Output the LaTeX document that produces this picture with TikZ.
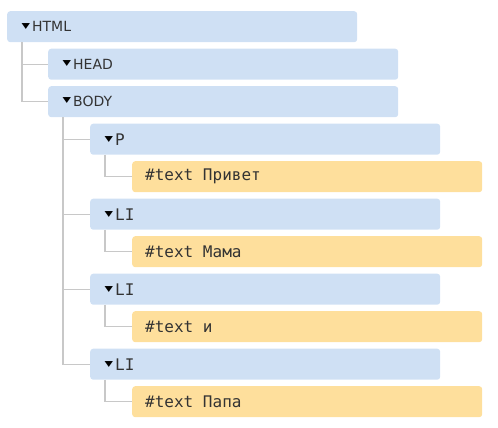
\documentclass[tikz,border=0pt]{standalone}
\usepackage{fontspec}
\setmainfont{DejaVu Sans}
\newfontfamily\tagmono[WordSpace={1,0,0}]{DejaVu Sans Mono}
\newcommand\tri{{\rmfamily\color{black}\fontsize{11}{11}\selectfont\raisebox{3.8pt}{\scalebox{1}[0.7]{▼}}}\hspace{2pt}}
\begin{document}
\begin{tikzpicture}[x=1pt, y=-1pt]

      \definecolor{tagBlue}{HTML}{CFE0F4}    % element nodes
      \definecolor{textGold}{HTML}{FEDF9C}   % text nodes
      \definecolor{inkGray}{HTML}{333333}
      \definecolor{wireGray}{HTML}{C8C8C8}

  \tikzset{
    box/.style={anchor=north west, rounded corners=3pt, minimum height=31pt,
      inner ysep=0pt, align=flush left, text=inkGray},
    tag/.style={box, fill=tagBlue, inner xsep=14.5pt, text width=321pt,
      font=\fontsize{14}{16}\selectfont},
    monotag/.style={tag, font=\tagmono\fontsize{16}{18}\selectfont},
    txt/.style={box, fill=textGold, inner xsep=13pt, text width=324pt,
      font=\tagmono\fontsize{16}{18}\selectfont},
    wire/.style={wireGray, line width=1.3pt}
  }

  \useasboundingbox (0,0) rectangle (498,428);

  % element nodes
  \node[tag] (html) at (7,11) {\tri HTML};
  \node[tag] (head) at (48,48.5) {\tri HEAD};
  \node[tag] (body) at (48,86) {\tri BODY};
  \node[monotag] (p) at (90,123.5) {\tri P};
  \node[txt] (t1) at (132,161) {\#text Привет};
  \foreach \w [count=\k] in {Мама, и, Папа} {
    \node[monotag] (li\k) at (90,{198.5+75*(\k-1)}) {\tri LI};
    \node[txt] (w\k) at (132,{236+75*(\k-1)}) {\#text \w};
  }

  % tree lines
  \draw[wire] ([xshift=15pt]html.south west) |- (head.west);
  \draw[wire] ([xshift=15pt]html.south west) |- (body.west);
  \foreach \n in {p, li1, li2, li3}
    \draw[wire] ([xshift=15pt]body.south west) |- (\n.west);
  \draw[wire] ([xshift=15pt]p.south west) |- (t1.west);
  \foreach \k in {1,2,3}
    \draw[wire] ([xshift=15pt]li\k.south west) |- (w\k.west);

\end{tikzpicture}
\end{document}
